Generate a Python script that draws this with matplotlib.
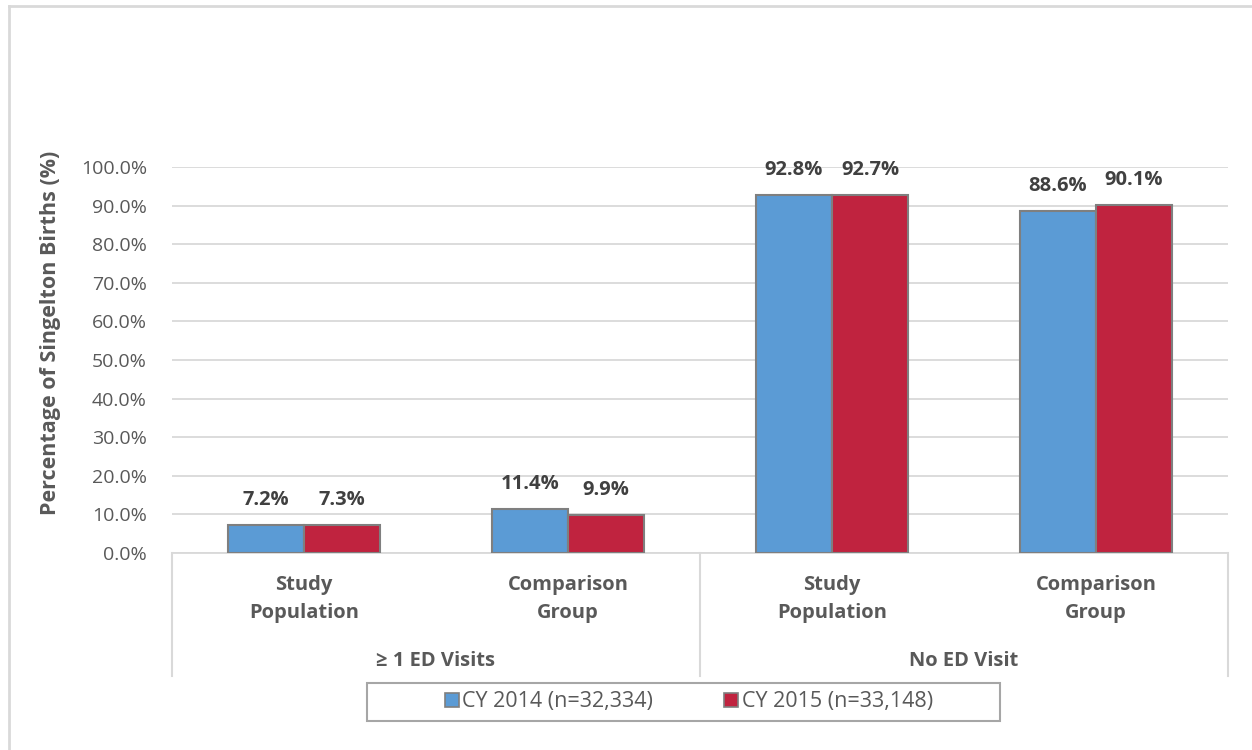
import matplotlib
matplotlib.use("Agg")
import matplotlib.pyplot as plt
from matplotlib.patches import Rectangle
from matplotlib.lines import Line2D

categories = ["Study\nPopulation", "Comparison\nGroup", "Study\nPopulation", "Comparison\nGroup"]
groups = ["\u2265 1 ED Visits", "No ED Visit"]
series_names = ["CY 2014 (n=32,334)", "CY 2015 (n=33,148)"]
cy2014 = [7.2, 11.4, 92.8, 88.6]
cy2015 = [7.3, 9.9, 92.7, 90.1]
yticks = [0, 10, 20, 30, 40, 50, 60, 70, 80, 90, 100]

plt.rcParams['font.family'] = ['Open Sans', 'DejaVu Sans']

W, H = 1252, 750
fig = plt.figure(figsize=(W / 100, H / 100), dpi=100)
L, R, B, T = 172, 1228, 553, 167
ax = fig.add_axes([L / W, 1 - B / H, (R - L) / W, (B - T) / H])

blue = "#5B9BD5"
red = "#C0233F"
edge = "#7F7F7F"
txt = "#595959"
lab = "#404040"
grid = "#D9D9D9"

x = list(range(len(categories)))
w = 0.288
b1 = ax.bar([i - w / 2 for i in x], cy2014, w, color=blue, edgecolor=edge, linewidth=1.5, zorder=3, label=series_names[0])
b2 = ax.bar([i + w / 2 for i in x], cy2015, w, color=red, edgecolor=edge, linewidth=1.5, zorder=3, label=series_names[1])
for bars, vals in ((b1, cy2014), (b2, cy2015)):
    for rect, v in zip(bars, vals):
        ax.annotate(f"{v:.1f}%", (rect.get_x() + rect.get_width() / 2, v), xytext=(0, 11),
                    textcoords="offset points", ha="center", va="bottom",
                    fontsize=14.5, fontweight="bold", color=lab)

ax.set_xlim(-0.5, len(categories) - 0.5)
ax.set_ylim(0, 100)
ax.set_yticks(yticks)
ax.set_yticklabels([f"{t:.1f}%" for t in yticks], fontsize=14, color=txt)
ax.tick_params(axis="y", length=0, pad=18)
ax.tick_params(axis="x", length=0, labelbottom=False)
ax.yaxis.grid(True, color=grid, linewidth=1.3, zorder=0)
ax.set_axisbelow(True)
for s in ["top", "right", "left"]:
    ax.spines[s].set_visible(False)
ax.spines["bottom"].set_color(grid)
ax.spines["bottom"].set_linewidth(1.3)

ax.set_ylabel("Percentage of Singelton Births (%)", fontsize=15.5, fontweight="bold", color=txt)
ax.yaxis.set_label_coords((61 - L) / (R - L), (B - 333) / (B - T))

# multi-level category axis
tr = ax.get_xaxis_transform()
depth = (676 - B) / (B - T)
for xv in (-0.5, 1.5, 3.5):
    ax.add_line(Line2D([xv, xv], [0, -depth], transform=tr, color=grid, linewidth=1.5, clip_on=False))
for i, c in enumerate(categories):
    ax.text(i, -(599 - B) / (B - T), c, transform=tr, ha="center", va="center",
            fontsize=14.5, fontweight="bold", color=txt, linespacing=1.5)
for gi, g in enumerate(groups):
    ax.text(gi * 2 + 0.5, -(661 - B) / (B - T), g, transform=tr, ha="center", va="center",
            fontsize=14.5, fontweight="bold", color=txt)

# legend box drawn in figure pixels
fig.add_artist(Rectangle((367 / W, 1 - 721 / H), (1000 - 367) / W, (721 - 683) / H,
                         transform=fig.transFigure, facecolor="white", edgecolor="#A6A6A6", linewidth=1.5))
leg = fig.legend(handles=[Rectangle((0, 0), 1, 1, facecolor=blue, edgecolor=edge, linewidth=1.2),
                          Rectangle((0, 0), 1, 1, facecolor=red, edgecolor=edge, linewidth=1.2)],
                 labels=series_names, loc="center", bbox_to_anchor=(689 / W, 1 - 702 / H),
                 ncol=2, frameon=False, fontsize=15.5, handlelength=0.65,
                 handleheight=0.65, handletextpad=0.15, columnspacing=3.3,
                 labelcolor=txt)

# chart border (only left and top visible in the crop)
fig.add_artist(Line2D([8.5 / W, 8.5 / W], [0, 1 - 5.5 / H], transform=fig.transFigure, color=grid, linewidth=2))
fig.add_artist(Line2D([8.5 / W, 1], [1 - 5.5 / H, 1 - 5.5 / H], transform=fig.transFigure, color=grid, linewidth=2))

fig.savefig("out.png", dpi=100, facecolor="white")
